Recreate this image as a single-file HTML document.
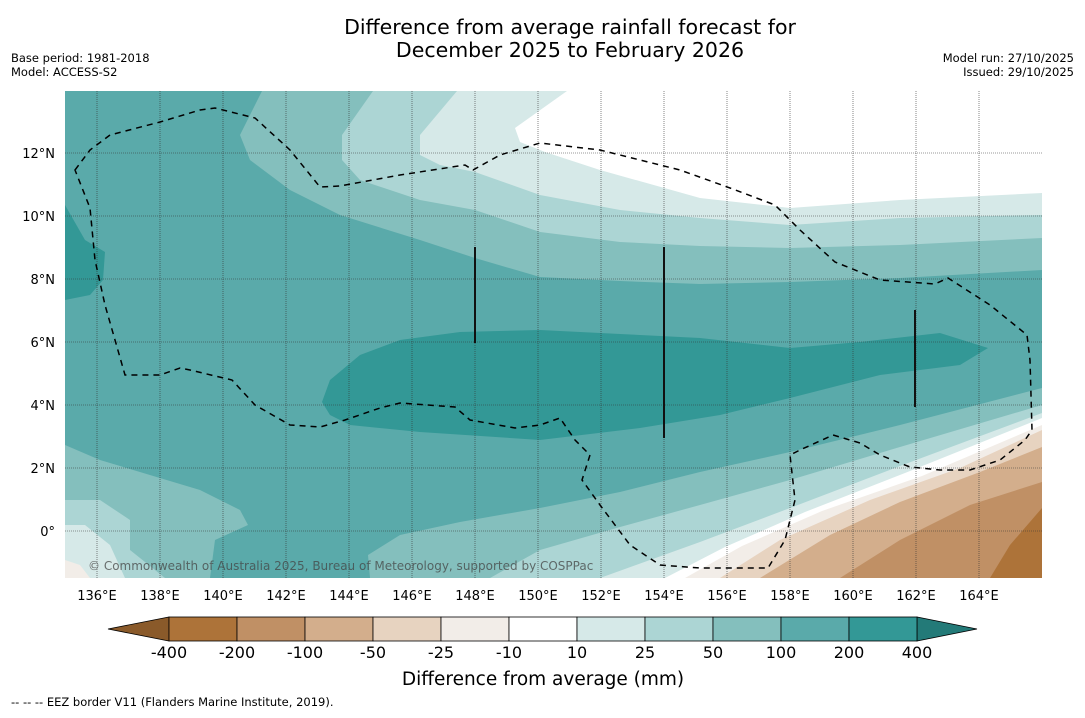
<!DOCTYPE html>
<html><head><meta charset="utf-8"><style>
body{margin:0;background:#fff;font-family:"Liberation Sans","DejaVu Sans",sans-serif}
svg text{font-family:"DejaVu Sans","Liberation Sans",sans-serif}
</style></head><body>
<svg id="c" width="1085" height="713" viewBox="0 0 1085 713" xmlns="http://www.w3.org/2000/svg">
<text x="570" y="34" font-size="20.5" text-anchor="middle">Difference from average rainfall forecast for</text>
<text x="570" y="57" font-size="20.5" text-anchor="middle">December 2025 to February 2026</text>
<text x="11" y="62" font-size="11.5">Base period: 1981-2018</text>
<text x="11" y="76" font-size="11.5">Model: ACCESS-S2</text>
<text x="1074" y="62" font-size="11.5" text-anchor="end">Model run: 27/10/2025</text>
<text x="1074" y="76" font-size="11.5" text-anchor="end">Issued: 29/10/2025</text>
<defs><clipPath id="mc"><rect x="65" y="91" width="977" height="487"/></clipPath></defs>
<g id="map" clip-path="url(#mc)">
<rect x="65" y="91" width="977" height="487" fill="#5aaaaa"/>
<path d="M65,205 L85,240 L105,252 L103,280 L90,295 L65,300Z" fill="#339896"/>
<path d="M322,402 L330,380 L360,355 L400,340 L460,332 L540,330 L620,334 L700,338 L790,348 L860,342 L940,333 L988,348 L960,365 L880,375 L790,398 L720,415 L640,428 L540,440 L420,432 L350,425 L330,415Z" fill="#339896"/>
<path d="M262,91 L240,135 L250,160 L290,190 L340,215 L420,240 L475,258 L540,277 L620,281 L700,284 L790,282 L900,278 L1042,270 L1042,91Z" fill="#84bfbd"/>
<path d="M373,91 L342,135 L342,160 L360,180 L420,200 L475,210 L540,232 L620,242 L700,246 L790,248 L900,245 L1042,238 L1042,91Z" fill="#acd5d4"/>
<path d="M457,91 L420,135 L420,155 L440,165 L475,172 L540,195 L620,210 L700,218 L790,225 L900,218 L1042,215 L1042,91Z" fill="#d6e9e8"/>
<path d="M567,91 L515,128 L520,142 L545,152 L600,170 L700,198 L790,208 L900,200 L1042,193 L1042,91Z" fill="#ffffff"/>
<path d="M65,445 L100,460 L200,490 L240,510 L248,525 L215,540 L210,578 L65,578Z" fill="#84bfbd"/>
<path d="M370,578 L368,555 L400,535 L460,522 L540,508 L620,492 L700,472 L790,452 L900,425 L1042,388 L1042,578Z" fill="#84bfbd"/>
<path d="M65,500 L100,500 L130,520 L130,550 L165,578 L65,578Z" fill="#acd5d4"/>
<path d="M65,525 L85,525 L110,545 L125,578 L65,578Z" fill="#d6e9e8"/>
<path d="M65,560 L80,565 L90,578 L65,578Z" fill="#f2ede8"/>
<path d="M490,578 L540,550 L620,527 L700,505 L790,480 L900,447 L1042,405 L1042,578Z" fill="#acd5d4"/>
<path d="M600,578 L700,542 L790,508 L900,466 L1042,413 L1042,578Z" fill="#d6e9e8"/>
<path d="M665,578 L725,547 L805,512 L905,473 L1042,418 L1042,578Z" fill="#ffffff"/>
<path d="M685,578 L742,546 L822,511 L922,476 L1042,425 L1042,578Z" fill="#f2ede8"/>
<path d="M720,578 L780,540 L870,500 L960,468 L1042,430 L1042,578Z" fill="#e7d3c0"/>
<path d="M760,578 L830,535 L900,502 L980,472 L1042,447 L1042,578Z" fill="#d3ae8c"/>
<path d="M840,578 L900,540 L970,505 L1042,482 L1042,578Z" fill="#c09065"/>
<path d="M990,578 L1010,545 L1042,508 L1042,578Z" fill="#ad7339"/>
<g id="grid"></g>
<path d="M75,170 L90,150 L110,135 L160,122 L200,110 L215,108 L255,118 L290,150 L320,187 L340,186 L400,175 L465,165 L473,170 L500,155 L540,143 L600,150 L640,160 L680,170 L730,188 L775,205 L800,230 L835,262 L880,280 L935,284 L948,278 L990,305 L1027,335 L1030,360 L1032,430 L1025,440 L1000,460 L970,470 L940,470 L910,467 L880,455 L860,443 L833,435 L800,450 L790,455 L795,500 L785,540 L768,568 L700,568 L660,565 L630,545 L600,505 L582,480 L590,455 L575,440 L560,418 L540,425 L515,428 L470,420 L455,407 L400,403 L380,408 L345,420 L320,427 L290,425 L255,405 L232,380 L190,370 L180,368 L160,375 L125,375 L105,305 L95,260 L90,208 Z" fill="none" stroke="#000" stroke-width="1.5" stroke-dasharray="6,5"/>
<line x1="475" y1="247" x2="475" y2="343" stroke="#111" stroke-width="2"/>
<line x1="664" y1="247" x2="664" y2="438" stroke="#111" stroke-width="2"/>
<line x1="915" y1="310" x2="915" y2="407" stroke="#111" stroke-width="2"/>
<text x="88" y="570" font-size="12" fill="#444" fill-opacity="0.75">© Commonwealth of Australia 2025, Bureau of Meteorology, supported by COSPPac</text>
</g>
<g id="axes"></g>
<g id="cbar"></g>
<text x="543" y="685" font-size="18.5" text-anchor="middle">Difference from average (mm)</text>
<text x="11" y="706" font-size="11.5">--  --  -- EEZ border V11 (Flanders Marine Institute, 2019).</text>
</svg>
<script>
const lonTicks=[136,138,140,142,144,146,148,150,152,154,156,158,160,162,164];
const latTicks=[0,2,4,6,8,10,12];
const levels=[-400,-200,-100,-50,-25,-10,10,25,50,100,200,400];
const levelColors=["#ad7339","#c09065","#d3ae8c","#e7d3c0","#f2ede8","#ffffff","#d6e9e8","#acd5d4","#84bfbd","#5aaaaa","#339896"];
const NS="http://www.w3.org/2000/svg";
const xL=lon=>97+(lon-136)*31.5;
const yL=lat=>531-lat*31.5;
function mk(t,a,p){const e=document.createElementNS(NS,t);for(const k in a)e.setAttribute(k,a[k]);p.appendChild(e);return e;}
const grid=document.getElementById('grid'),axes=document.getElementById('axes'),cb=document.getElementById('cbar');
lonTicks.forEach(l=>{
 const g=mk('line',{x1:xL(l),x2:xL(l),y1:91,y2:578,stroke:'#333','stroke-opacity':0.6,'stroke-width':1,'stroke-dasharray':'1,1'},grid);
 
 
 const t=mk('text',{x:xL(l),y:600,'font-size':13,'text-anchor':'middle'},axes);t.textContent=l+'°E';
 
 
});
latTicks.forEach(l=>{
 const g=mk('line',{x1:65,x2:1042,y1:yL(l),y2:yL(l),stroke:'#333','stroke-opacity':0.5,'stroke-width':1,'stroke-dasharray':'1,1'},grid);
 
 
 const t=mk('text',{x:55,y:yL(l)+5,'font-size':13,'text-anchor':'end'},axes);t.textContent=l===0?'0°':l+'°N';
 
 
});
const cx0=169,cw=68,cy=617,ch=24;
const lt=mk('polygon',{points:`108,${cy+ch/2} ${cx0},${cy} ${cx0},${cy+ch}`,fill:'#8a5a2a',stroke:'#000','stroke-width':0.8},cb);


const rx=cx0+cw*levelColors.length;
const rt=mk('polygon',{points:`${rx},${cy} ${rx},${cy+ch} 977,${cy+ch/2}`,fill:'#237a78',stroke:'#000','stroke-width':0.8},cb);


levelColors.forEach((c,i)=>{
 const r=mk('rect',{x:cx0+i*cw,y:cy,width:cw,height:ch,fill:c,stroke:'#000','stroke-width':0.8},cb);
 
 
});
levels.forEach((v,i)=>{
 const t=mk('text',{x:cx0+i*cw,y:658,'font-size':16,'text-anchor':'middle'},cb);t.textContent=v;
 
 
});
</script>
</body></html>
